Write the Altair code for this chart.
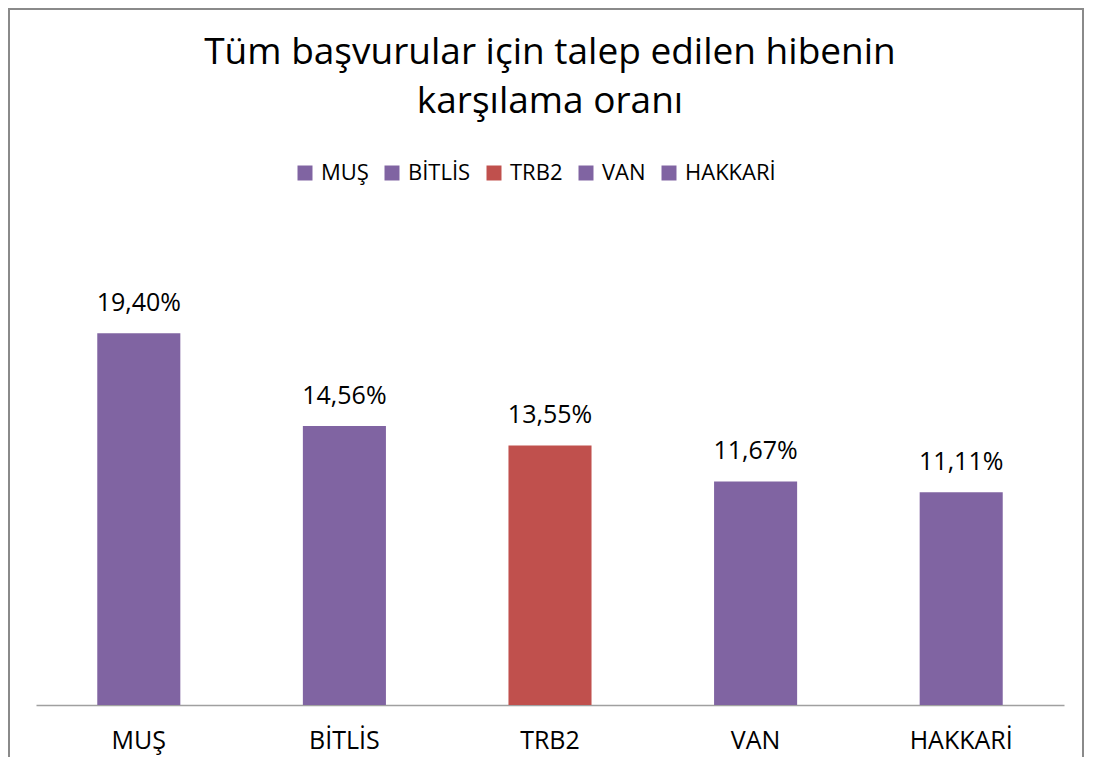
import altair as alt
import pandas as pd

categories = ["MUŞ", "BİTLİS", "TRB2", "VAN", "HAKKARİ"]
values = [19.40, 14.56, 13.55, 11.67, 11.11]
labels = ["19,40%", "14,56%", "13,55%", "11,67%", "11,11%"]
colors = ["#8064A2", "#8064A2", "#C0504D", "#8064A2", "#8064A2"]
title_lines = ["Tüm başvurular için talep edilen hibenin", "karşılama oranı"]

FONT = "Open Sans"

df = pd.DataFrame({"region": categories, "value": values, "label": labels})
one = pd.DataFrame({"a": [0]})

x = alt.X(
    "region:N",
    sort=categories,
    title=None,
    scale=alt.Scale(paddingInner=0.596, paddingOuter=0.298),
    axis=alt.Axis(
        labelAngle=0, labelFontSize=25, labelFont=FONT, labelColor="#000000",
        ticks=False, domainColor="#a0a0a0", domainWidth=1.5,
        labelPadding=43, labelBaseline="alphabetic", grid=False,
    ),
)
y = alt.Y("value:Q", scale=alt.Scale(domain=[0, 25]), axis=None)

border = alt.Chart(one).mark_rect(
    fill="transparent", stroke="#8a8a8a", strokeWidth=2
).encode(
    x=alt.value(-27), x2=alt.value(1047), y=alt.value(-217), y2=alt.value(560)
)

bars = alt.Chart(df).mark_bar().encode(
    x=x,
    y=y,
    color=alt.Color(
        "region:N",
        sort=categories,
        scale=alt.Scale(domain=categories, range=colors),
        legend=alt.Legend(
            title=None, orient="none", legendX=258, legendY=-64,
            direction="horizontal", symbolType="square", symbolSize=225,
            symbolStrokeWidth=0, labelFontSize=22, labelFont=FONT,
            labelColor="#000000", labelOffset=5, columnPadding=12, padding=0,
        ),
    ),
)

text = alt.Chart(df).mark_text(
    dy=-22, baseline="alphabetic", fontSize=25, font=FONT, color="#000000"
).encode(x=x, y=y, text="label:N")

t1 = alt.Chart(one).mark_text(
    fontSize=37, font=FONT, color="#000000", baseline="alphabetic", align="center"
).encode(x=alt.value(514), y=alt.value(-162), text=alt.value(title_lines[0]))
t2 = alt.Chart(one).mark_text(
    fontSize=37, font=FONT, color="#000000", baseline="alphabetic", align="center"
).encode(x=alt.value(514), y=alt.value(-113), text=alt.value(title_lines[1]))

chart = alt.layer(border, bars, text, t1, t2).properties(
    width=1028, height=479,
    padding={"left": 28, "top": 218, "right": 21, "bottom": 52},
    autosize="none",
    background="white",
).configure_view(stroke=None)

chart.save("out.html", embed_options={"renderer": "svg", "actions": False})
